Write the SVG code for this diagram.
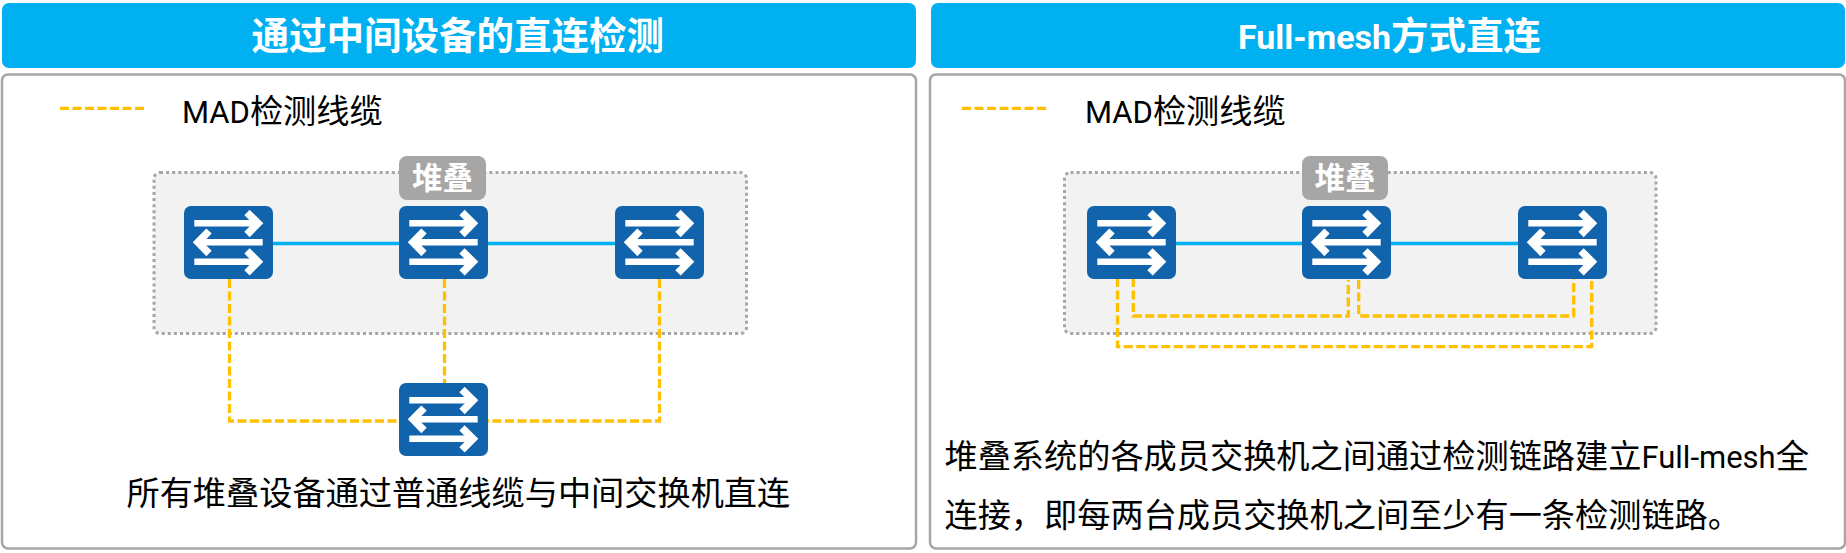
<svg xmlns="http://www.w3.org/2000/svg" width="1846" height="553" viewBox="0 0 1846 553">
<style>
text{font-family:"Noto Sans CJK SC",sans-serif}
.hdr{fill:#00B0F0}
.panel{fill:#fff;stroke:#A6A6A6;stroke-width:2.5}
.title{fill:#fff;font-size:37.500px;font-weight:700}
.body{fill:#000;font-size:33.200px}
.lat{font-family:Roboto,"Noto Sans",sans-serif}
.lt{font-size:34px}
.lb{font-size:31px}
.lm{font-size:31px}
.stack{fill:#F2F2F2;stroke:#A6A6A6;stroke-width:3;stroke-dasharray:3 3.1}
.tag{fill:#A6A6A6}
.tagt{fill:#fff;font-size:30.500px;font-weight:700;text-anchor:middle}
.link{fill:none;stroke:#00B0F0;stroke-width:3.300}
.mad{fill:none;stroke:#FFC000;stroke-width:3.300;stroke-dasharray:9 3.5}
.sw{fill:#1164AC}
.ar{fill:none;stroke:#fff;stroke-width:6.500}
.hd{fill:none;stroke:#fff;stroke-width:7.500}
</style>
<defs>
<g id="switch">
<rect class="sw" width="89" height="73" rx="7"/>
<path class="ar" d="M10.300 17.300H75"/>
<path class="hd" d="M63 6.500L74 17.300L63 28.500"/>
<path class="ar" d="M78.700 36.300H16"/>
<path class="hd" d="M25 25L14 36.300L25 47.500"/>
<path class="ar" d="M10.300 55.700H75"/>
<path class="hd" d="M63 44.900L74 55.700L63 66.900"/>
</g>
</defs>
<g id="panel-left">
<rect class="hdr" x="2" y="3" width="914" height="65" rx="7"/>
<text class="title" x="251.500" y="49">通过中间设备的直连检测</text>
<rect class="panel" x="2" y="74.500" width="914" height="474" rx="6"/>
<path class="mad" d="M60 108.300H145"/>
<text class="body" x="182" y="123"><tspan class="lat lm">MAD</tspan>检测线缆</text>
<rect class="stack" x="154" y="172.500" width="592.500" height="161" rx="6"/>
<text class="body" x="126.500" y="505">所有堆叠设备通过普通线缆与中间交换机直连</text>
</g>
<g id="panel-right">
<rect class="hdr" x="931" y="3" width="914" height="65" rx="7"/>
<text class="title" x="1238" y="49"><tspan class="lat lt">Full-mesh</tspan>方式直连</text>
<rect class="panel" x="930" y="74.500" width="915" height="474" rx="6"/>
<path class="mad" d="M962 108.300H1047"/>
<text class="body" x="1085" y="123"><tspan class="lat lm">MAD</tspan>检测线缆</text>
<rect class="stack" x="1064.500" y="172.500" width="591.500" height="161" rx="6"/>
<text class="body" x="944.500" y="468">堆叠系统的各成员交换机之间通过检测链路建立<tspan class="lat lb">Full-mesh</tspan>全</text>
<text class="body" x="944.500" y="527">连接&#xFF0C;即每两台成员交换机之间至少有一条检测链路。</text>
</g>
<g id="connectors">
<path class="link" d="M273 243.500H615"/>
<path class="mad" d="M229.500 279V421H399"/>
<path class="mad" d="M444.500 279V383"/>
<path class="mad" d="M659.500 279V421H488"/>
<path class="link" d="M1176 243.500H1518"/>
<path class="mad" d="M1117.500 278V346.700H1591.700V281"/>
<path class="mad" d="M1133.300 278V316H1348.300V280"/>
<path class="mad" d="M1358.700 280V316H1573.700V278"/>
</g>
<g id="tag-left"><rect class="tag" x="399" y="156" width="87" height="44" rx="8"/><text class="tagt" x="442.500" y="188.500">堆叠</text></g>
<g id="tag-right"><rect class="tag" x="1302" y="156" width="86" height="44" rx="8"/><text class="tagt" x="1345" y="188.500">堆叠</text></g>
<g id="sw-l1"><use href="#switch" x="184" y="206"/></g>
<g id="sw-l2"><use href="#switch" x="399" y="206"/></g>
<g id="sw-l3"><use href="#switch" x="615" y="206"/></g>
<g id="sw-l4"><use href="#switch" x="399" y="383"/></g>
<g id="sw-r1"><use href="#switch" x="1087" y="206"/></g>
<g id="sw-r2"><use href="#switch" x="1302" y="206"/></g>
<g id="sw-r3"><use href="#switch" x="1518" y="206"/></g>
</svg>
